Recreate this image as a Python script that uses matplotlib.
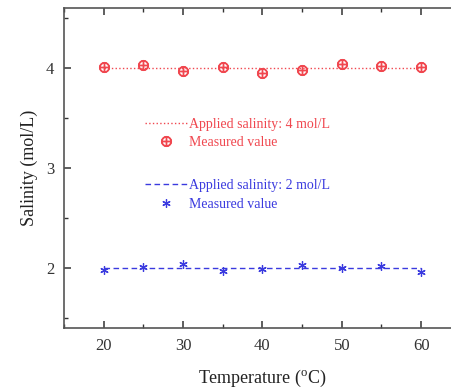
import numpy as np
import matplotlib.pyplot as plt
from matplotlib.ticker import MultipleLocator

# temperatures (degC)
temps = [20, 25, 30, 35, 40, 45, 50, 55, 60]

applied_4 = 4.0
applied_2 = 2.0
measured_4 = [4.01, 4.03, 3.97, 4.01, 3.95, 3.98, 4.04, 4.02, 4.01]
measured_2 = [1.98, 2.01, 2.04, 1.97, 1.99, 2.03, 2.00, 2.02, 1.96]

red = '#f0474f'
blue = '#3a3adf'

plt.rcParams['font.family'] = 'Liberation Serif'
plt.rcParams['mathtext.fontset'] = 'custom'
plt.rcParams['mathtext.rm'] = 'Liberation Serif'

fig = plt.figure(figsize=(4.52, 3.88), dpi=100)
# right spine sits just outside the picture, as in the original crop
ax = fig.add_axes([0.1416, 0.1546, 0.878, 0.825])

l4, = ax.plot(temps, [applied_4] * len(temps), linestyle=':', color=red, lw=1.0)
m4, = ax.plot(temps, measured_4, linestyle='none', marker=r'$\oplus$',
              color=red, markersize=7)
l2, = ax.plot(temps, [applied_2] * len(temps), linestyle='--', color=blue,
              lw=1.0, dashes=(4, 2.5))
m2, = ax.plot(temps, measured_2, linestyle='none', marker=(6, 2, 0),
              color=blue, markersize=6, markeredgewidth=0.9)

ax.set_xlim(15, 65)
ax.set_ylim(1.4, 4.6)
ax.xaxis.set_major_locator(MultipleLocator(10))
ax.xaxis.set_minor_locator(MultipleLocator(5))
ax.yaxis.set_major_locator(MultipleLocator(1))
ax.yaxis.set_minor_locator(MultipleLocator(0.5))
ax.tick_params(which='both', direction='in', top=True, right=True,
               labelsize=12, colors='#333333')
ax.tick_params(which='major', length=5, width=1.1, pad=7)
ax.tick_params(which='minor', length=3, width=1.0)
for s in ax.spines.values():
    s.set_color('#555555')
    s.set_linewidth(1.2)

ax.set_xlabel(r'Temperature ($^{\rm o}$C)', fontsize=13, color='#222222',
              labelpad=10)
ax.set_ylabel('Salinity (mol/L)', fontsize=13, color='#222222', labelpad=6)

leg_font = {'family': 'Liberation Serif', 'size': 10}
leg1 = ax.legend([l4, m4], ['Applied salinity: 4 mol/L', 'Measured value'],
                 loc='upper left', bbox_to_anchor=(0.19, 0.675), frameon=False,
                 prop=leg_font, labelcolor=red, handlelength=3.0,
                 handletextpad=0.2, labelspacing=0.4, borderaxespad=0)
ax.add_artist(leg1)
ax.legend([l2, m2], ['Applied salinity: 2 mol/L', 'Measured value'],
          loc='upper left', bbox_to_anchor=(0.19, 0.482), frameon=False,
          prop=leg_font, labelcolor=blue, handlelength=3.0,
          handletextpad=0.2, labelspacing=0.4, borderaxespad=0)

fig.savefig('out.png', dpi=100)
